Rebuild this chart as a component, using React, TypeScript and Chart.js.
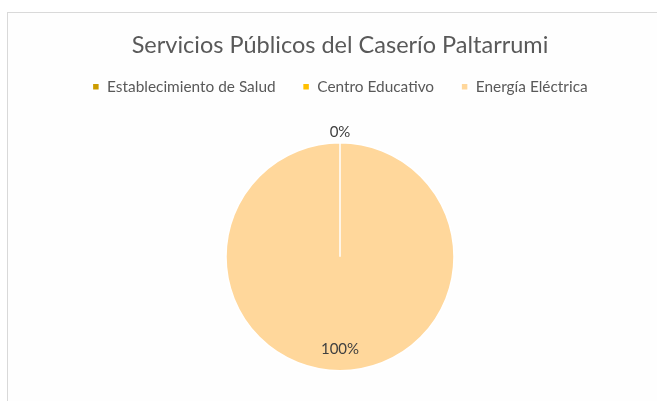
import { useEffect, useRef } from "react";
import { Chart, registerables } from "chart.js";

Chart.register(...registerables);

const titleText = "Servicios Públicos del Caserío Paltarrumi";
const categories = ["Establecimiento de Salud", "Centro Educativo", "Energía Eléctrica"];
const values = [0, 0, 100];
const colors = ["#CC9C00", "#FFC000", "#FFD79B"];

const total = values.reduce((a, b) => a + b, 0);
const percentLabels = values.map((v) => Math.round((v / total) * 100) + "%");

const labelPlugin = {
  id: "sliceLabels",
  afterDatasetsDraw(chart: any) {
    const ctx = chart.ctx;
    const meta = chart.getDatasetMeta(0);
    const drawn = new Set<string>();
    ctx.save();
    ctx.font = "15px Lato";
    ctx.fillStyle = "#404040";
    ctx.textAlign = "center";
    ctx.textBaseline = "middle";
    meta.data.forEach((arc: any, i: number) => {
      const { x, y, startAngle, endAngle, outerRadius } = arc.getProps(
        ["x", "y", "startAngle", "endAngle", "outerRadius"],
        true
      );
      const mid = (startAngle + endAngle) / 2;
      const r = values[i] === 0 ? outerRadius + 11 : outerRadius * 0.81;
      const lx = x + Math.cos(mid) * r;
      const ly = y + Math.sin(mid) * r;
      const key = Math.round(lx) + "," + Math.round(ly);
      if (drawn.has(key)) return;
      drawn.add(key);
      ctx.fillText(percentLabels[i], lx, ly);
    });
    ctx.restore();
  },
};

export default function App() {
  const ref = useRef<HTMLCanvasElement | null>(null);
  useEffect(() => {
    if (!ref.current) return;
    const chart = new Chart(ref.current, {
      type: "pie",
      data: {
        labels: categories,
        datasets: [
          {
            data: values,
            backgroundColor: colors,
            borderColor: "#ffffff",
            borderWidth: 1.5,
          },
        ],
      },
      options: {
        animation: false,
        responsive: false,
        maintainAspectRatio: false,
        radius: 114,
        layout: { padding: { top: 0, bottom: 0, left: 0, right: 0 } },
        plugins: {
          title: {
            display: true,
            text: titleText,
            color: "#595959",
            font: { family: "Lato", size: 23.5, weight: "normal", lineHeight: 0.6 },
            padding: { top: 25, bottom: 0 },
          },
          legend: {
            display: true,
            position: "top",
            labels: {
              color: "#595959",
              font: { family: "Lato", size: 15.4, lineHeight: 1.0 },
              boxWidth: 7,
              boxHeight: 7,
              padding: 27,
            },
          },
          tooltip: { enabled: false },
        },
      },
      plugins: [labelPlugin],
    });
    return () => chart.destroy();
  }, []);
  return (
    <div style={{ position: "fixed", inset: 0, overflow: "hidden", background: "#ffffff" }}>
      <div
        style={{
          position: "absolute",
          left: 7,
          top: 12,
          width: 664,
          height: 400,
          border: "1px solid #d9d9d9",
          background: "#fefefe",
        }}
      >
        <canvas ref={ref} width={664} height={396} style={{ display: "block", width: 664, height: 396 }} />
      </div>
    </div>
  );
}
